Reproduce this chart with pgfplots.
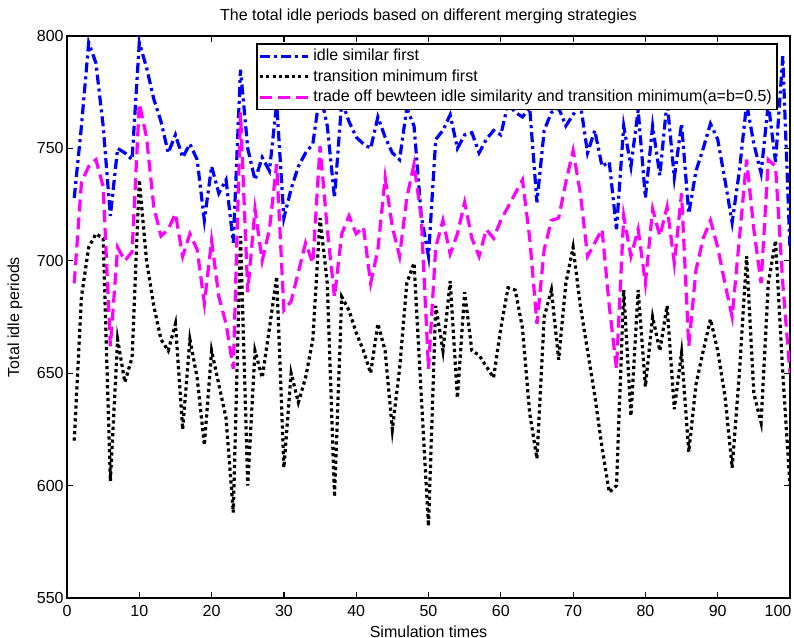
\documentclass[border=0pt]{standalone}
\usepackage{fontspec}
\setmainfont{Liberation Sans}
\usepackage{pgfplots}
\usepackage{pgfplotstable}
\pgfplotsset{compat=1.18}
\definecolor{mblue}{RGB}{0,0,255}
\definecolor{mmag}{RGB}{255,0,255}

\pgfplotstableread{
x idle trans trade
1 728 620 690
2 760 684 735
3 797 706 742
4 788 712 745
5 760 710 733
6 720 602 662
7 750 665 706
8 748 646 700
9 745 657 704
10 797 736 770
11 786 700 755
12 772 680 724
13 762 665 711
14 748 660 714
15 756 672 721
16 746 625 702
17 752 665 712
18 745 648 705
19 718 618 681
20 742 660 709
21 730 645 684
22 736 630 672
23 708 588 652
24 785 711 766
25 750 600 686
26 736 660 723
27 746 648 700
28 740 670 714
29 770 693 743
30 719 608 678
31 732 650 682
32 742 637 695
33 748 648 708
34 752 665 699
35 775 719 751
36 760 690 714
37 728 595 684
38 771 684 712
39 762 678 720
40 755 668 712
41 752 660 715
42 750 650 690
43 764 672 705
44 755 660 737
45 748 625 715
46 745 652 702
47 768 690 728
48 760 699 743
49 720 640 719
50 702 582 652
51 754 680 706
52 758 660 718
53 765 691 703
54 750 639 712
55 756 686 726
56 757 660 710
57 748 658 702
58 754 653 714
59 758 648 710
60 756 670 718
61 770 688 724
62 766 687 730
63 764 670 736
64 768 632 710
65 726 612 672
66 758 675 705
67 766 687 718
68 768 656 719
69 760 690 735
70 765 706 749
71 770 680 730
72 748 660 702
73 758 640 708
74 742 617 714
75 744 597 680
76 714 600 652
77 760 687 720
78 742 631 702
79 767 687 714
80 728 644 690
81 760 675 723
82 738 660 711
83 771 680 724
84 737 634 699
85 761 659 730
86 721 615 662
87 740 645 696
88 750 660 710
89 761 674 718
90 754 660 706
91 736 640 690
92 717 608 675
93 740 650 710
94 770 702 745
95 752 641 714
96 739 628 690
97 770 690 745
98 744 709 742
99 791 650 690
100 705 600 650
}\datatable

\begin{document}
\begin{tikzpicture}[font=\fontsize{8}{9.5}\selectfont]
\useasboundingbox (-33.5pt,-20pt) rectangle (363.5pt,299pt);
\clip (-33.5pt,-20pt) rectangle (363.5pt,299pt);
\begin{axis}[
    scale only axis,
    width=361.5pt,
    height=281pt,
    xmin=0, xmax=100,
    ymin=550, ymax=800,
    xtick={0,10,...,90},
    extra x ticks={100},
    extra x tick style={xticklabel style={xshift=-6pt}},
    ytick={550,600,...,800},
    tick align=inside,
    major tick length=3pt,
    axis line style={line width=0.6pt},
    every tick/.style={black, line width=0.6pt},
    tick label style={font=\fontsize{8}{9.5}\selectfont},
    yticklabel style={inner sep=1.5pt},
    /pgf/number format/assume math mode=true,
    title={The total idle periods based on different merging strategies},
    title style={at={(0.5,1)}, anchor=base, yshift=2pt},
    xlabel={Simulation times},
    xlabel style={at={(axis description cs:0.5,-0.0694)}, anchor=base, inner sep=0pt},
    ylabel={Total idle periods},
    ylabel style={at={(axis description cs:-0.072,0.5)}, anchor=center},
    legend style={at={(0.983,0.9875)}, anchor=north east, draw=black,
        line width=0.8pt, inner sep=0.5pt, row sep=-1pt,
        font=\fontsize{8}{9.5}\selectfont},
    legend cell align=left,
    legend image code/.code={\draw[#1] (0pt,0pt) -- (24pt,0pt);},
]
\addplot[mblue, line width=1.6pt, dash pattern=on 5pt off 2pt on 1.5pt off 2pt] table[x=x, y=idle] {\datatable};
\addlegendentry{idle similar first}
\addplot[black, line width=1.6pt, dash pattern=on 1.6pt off 1.6pt] table[x=x, y=trans] {\datatable};
\addlegendentry{transition minimum first}
\addplot[mmag, line width=1.6pt, dash pattern=on 6pt off 3pt] table[x=x, y=trade] {\datatable};
\addlegendentry{trade off bewteen idle similarity and transition minimum(a=b=0.5)}
\end{axis}
\end{tikzpicture}
\end{document}
